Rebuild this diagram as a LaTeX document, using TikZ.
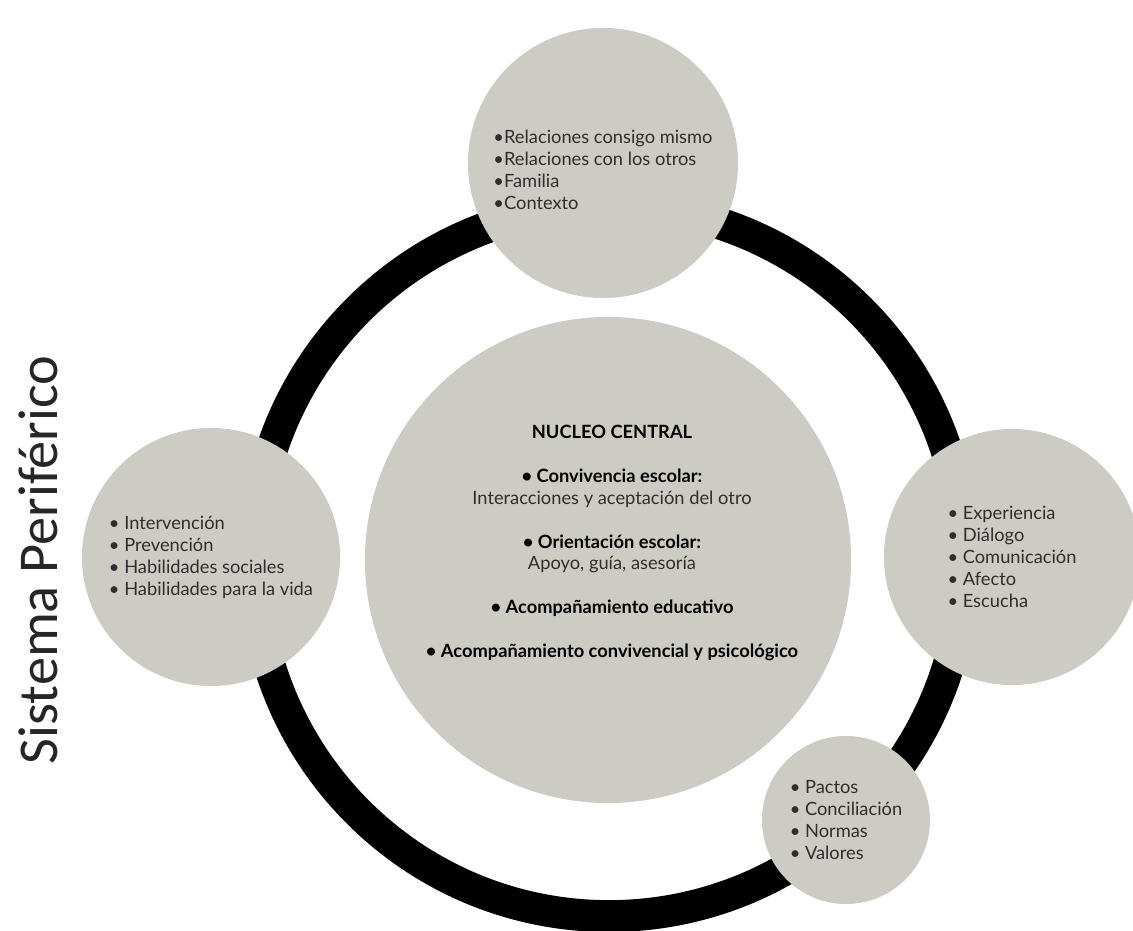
\documentclass[tikz,border=0pt]{standalone}
\usepackage{fontspec}
\setmainfont{Lato}
\newfontfamily\titlefont{Carlito}
\usepackage{xcolor}
\usetikzlibrary{positioning}
\definecolor{discgray}{HTML}{CDCCC4}
\definecolor{inkgray}{HTML}{2E2E2E}
\tikzset{
  disc/.style={circle, fill=discgray, inner sep=0pt, text=inkgray, align=left,
    font=\fontsize{13}{15.6}\selectfont}
}

\begin{document}
\begin{tikzpicture}[x=0.025cm, y=-0.025cm]
    \useasboundingbox (0,0) rectangle (1133,931);

    % Ring of the peripheral system
    \coordinate (mid) at (609,561);
    \draw[line width=22.7pt] (mid) circle (8.875cm);

    % Central nucleus
    \node[disc, minimum size=12.15cm] (core) at (608,560) {};
    \node[text=inkgray, align=center, font=\fontsize{13}{15.6}\selectfont] (coretext) at (612,543)
      {{\bfseries\color{black}NUCLEO CENTRAL}\\[15.6pt]
       {\bfseries\color{black}• Convivencia escolar:}\\
       Interacciones y aceptación del otro\\[15.6pt]
       {\bfseries\color{black}• Orientación escolar:}\\
       Apoyo, guía, asesoría\\[15.6pt]
       {\bfseries\color{black}• Acompañamiento educativo}\\[15.6pt]
       {\bfseries\color{black}• Acompañamiento convivencial y psicológico}};

    % Peripheral circles
    \node[disc, minimum size=6.75cm] (top) at (603,163)
      {\mbox{}\\[4pt]•Relaciones consigo mismo\\ •Relaciones con los otros\\ •Familia\\ •Contexto};
    \node[disc, minimum size=6.45cm] (left) at (211,557)
      {• Intervención\\ • Prevención\\ • Habilidades sociales\\ • Habilidades para la vida};
    \node[disc, minimum size=6.4cm] (right) at (1012,557)
      {• Experiencia\\ • Diálogo\\ • Comunicación\\ • Afecto\\ • Escucha};
    \node[disc, minimum size=4.2cm] (low) at (846,820)
      {• Pactos\\ • Conciliación\\ • Normas\\ • Valores};

    % Title
    \node[rotate=90, text=black!85, font=\titlefont\fontsize{40}{40}\selectfont] (title) at (38,560) {Sistema Periférico};
\end{tikzpicture}
\end{document}
